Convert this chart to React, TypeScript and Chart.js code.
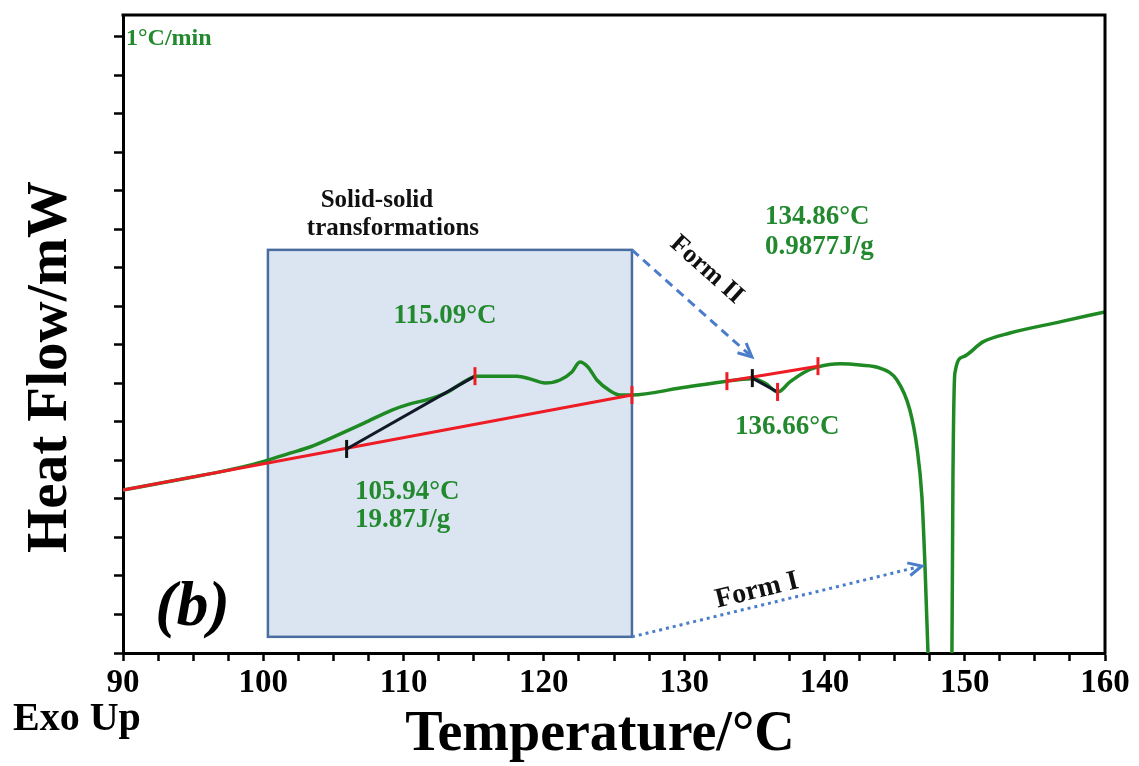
import React, { useEffect, useRef } from 'react';
import { Chart, registerables } from 'chart.js';

Chart.register(...registerables);

// DSC trace (green)
const temperature = [
  90.0, 94.99, 97.48, 99.05, 100.33, 101.9, 103.33, 105.18, 107.18, 109.17, 110.46, 111.88,
  113.16, 114.16, 115.23, 116.66, 118.08, 119.01, 120.08, 121.15, 122.0, 122.57, 123.14,
  123.78, 124.71, 125.42, 126.28, 129.7, 133.05, 134.83, 135.76, 136.69, 137.54, 138.61,
  139.54, 141.11, 142.53, 143.96, 145.17, 146.09, 146.59, 146.95, 147.16, 147.38, 147.6,
  148.9, 149.09, 149.16, 149.3, 149.87, 151.3, 153.22, 156.79, 160.0,
];
const heatFlow = [
  4.23, 4.57, 4.75, 4.88, 5.01, 5.19, 5.35, 5.64, 5.97, 6.31, 6.47, 6.6,
  6.78, 7.01, 7.19, 7.19, 7.19, 7.12, 7.01, 7.09, 7.3, 7.56, 7.43,
  7.09, 6.81, 6.7, 6.7, 6.88, 7.06, 7.12, 7.01, 6.78, 7.04, 7.3,
  7.43, 7.51, 7.48, 7.4, 7.09, 6.31, 5.35, 4.05, 2.34, 0.03, -3,
  -3, 0.08, 4.49, 7.27, 7.69, 8.08, 8.31, 8.6, 8.86,
];

// Baselines (red)
const baseline1T = [90.0, 126.28];
const baseline1HF = [4.23, 6.7];
const baseline2T = [133.05, 139.54];
const baseline2HF = [7.06, 7.45];

// Tangent lines (black)
const tangent1T = [105.94, 115.09];
const tangent1HF = [5.3, 7.19];
const tangent2T = [134.86, 136.66];
const tangent2HF = [7.14, 6.78];

// Limit markers
const redMarkT = [115.09, 126.28, 133.05, 136.66, 139.54];
const redMarkHF = [7.19, 6.7, 7.06, 6.78, 7.45];
const blackMarkT = [105.94, 134.86];
const blackMarkHF = [5.3, 7.14];

// Axis ticks
const xTickLabels = [90, 100, 110, 120, 130, 140, 150, 160];

// Shaded region (solid-solid transformations)
const boxT = [100.33, 126.28];
const boxHF = [0.42, 10.47];

const GREEN_TEXT = '#23892f';
const SERIF = '"Liberation Serif", "Times New Roman", serif';

const pts = (xs: number[], ys: number[]) => xs.map((x, i) => ({ x, y: ys[i] }));

const labels = [
  { text: '1°C/min', t: 90.21, v: 15.8, size: 24, color: GREEN_TEXT, align: 'left' },
  { text: 'Solid-solid', t: 108.1, v: 11.58, size: 25, color: '#111', align: 'center' },
  { text: 'transformations', t: 109.24, v: 10.86, size: 25, color: '#111', align: 'center' },
  { text: '115.09°C', t: 112.95, v: 8.57, size: 27, color: GREEN_TEXT, align: 'center' },
  { text: '134.86°C', t: 135.76, v: 11.14, size: 27, color: GREEN_TEXT, align: 'left' },
  { text: '0.9877J/g', t: 135.76, v: 10.36, size: 27, color: GREEN_TEXT, align: 'left' },
  { text: '105.94°C', t: 106.54, v: 4.0, size: 27, color: GREEN_TEXT, align: 'left' },
  { text: '19.87J/g', t: 106.54, v: 3.27, size: 27, color: GREEN_TEXT, align: 'left' },
  { text: '136.66°C', t: 133.62, v: 5.69, size: 27, color: GREEN_TEXT, align: 'left' },
];

const arrows = [
  { from: [126.28, 10.47], to: [134.83, 7.69], dash: [9, 6], label: 'Form II', lt: 131.6, lv: 9.95, size: 26 },
  { from: [126.28, 0.42], to: [146.95, 2.26], dash: [3, 4], label: 'Form I', lt: 135.19, lv: 1.62, size: 28 },
];

const overlayPlugin = {
  id: 'overlay',
  beforeDatasetsDraw(chart: any) {
    const { ctx, scales } = chart;
    const x = scales.x, y = scales.y;
    const x0 = x.getPixelForValue(boxT[0]);
    const x1 = x.getPixelForValue(boxT[1]);
    const y0 = y.getPixelForValue(boxHF[1]);
    const y1 = y.getPixelForValue(boxHF[0]);
    ctx.save();
    ctx.fillStyle = '#dbe5f1';
    ctx.fillRect(x0, y0, x1 - x0, y1 - y0);
    ctx.strokeStyle = '#4a6c9e';
    ctx.lineWidth = 2.5;
    ctx.strokeRect(x0, y0, x1 - x0, y1 - y0);
    ctx.restore();
  },
  afterDraw(chart: any) {
    const { ctx, scales, chartArea } = chart;
    const x = scales.x, y = scales.y;
    ctx.save();
    // frame top & right
    ctx.strokeStyle = '#000';
    ctx.lineWidth = 3;
    ctx.beginPath();
    ctx.moveTo(chartArea.left - 1.5, chartArea.top);
    ctx.lineTo(chartArea.right, chartArea.top);
    ctx.lineTo(chartArea.right, chartArea.bottom + 1.5);
    ctx.stroke();

    // arrows
    arrows.forEach((a) => {
      const fx = x.getPixelForValue(a.from[0]);
      const fy = y.getPixelForValue(a.from[1]);
      const tx = x.getPixelForValue(a.to[0]);
      const ty = y.getPixelForValue(a.to[1]);
      const ang = Math.atan2(ty - fy, tx - fx);
      ctx.strokeStyle = '#4a7dc9';
      ctx.lineWidth = 3;
      ctx.setLineDash(a.dash);
      ctx.beginPath();
      ctx.moveTo(fx, fy);
      ctx.lineTo(tx - 4 * Math.cos(ang), ty - 4 * Math.sin(ang));
      ctx.stroke();
      ctx.setLineDash([]);
      const hl = 15;
      ctx.lineWidth = 3;
      ctx.beginPath();
      ctx.moveTo(tx - hl * Math.cos(ang - 0.45), ty - hl * Math.sin(ang - 0.45));
      ctx.lineTo(tx, ty);
      ctx.lineTo(tx - hl * Math.cos(ang + 0.45), ty - hl * Math.sin(ang + 0.45));
      ctx.stroke();
      // label along arrow
      ctx.save();
      ctx.translate(x.getPixelForValue(a.lt), y.getPixelForValue(a.lv));
      ctx.rotate(ang);
      ctx.fillStyle = '#111';
      ctx.font = `bold ${a.size}px ${SERIF}`;
      ctx.textAlign = 'center';
      ctx.textBaseline = 'middle';
      ctx.fillText(a.label, 0, 0);
      ctx.restore();
    });

    // annotations
    labels.forEach((l) => {
      ctx.fillStyle = l.color;
      ctx.font = `bold ${l.size}px ${SERIF}`;
      ctx.textAlign = l.align;
      ctx.textBaseline = 'alphabetic';
      ctx.fillText(l.text, x.getPixelForValue(l.t), y.getPixelForValue(l.v));
    });

    // panel letter
    ctx.fillStyle = '#000';
    ctx.font = `italic bold 64px ${SERIF}`;
    ctx.textAlign = 'left';
    ctx.fillText('(b)', x.getPixelForValue(92.3), y.getPixelForValue(0.73));

    // axis titles
    ctx.font = `bold 56px ${SERIF}`;
    ctx.textAlign = 'center';
    ctx.fillText('Temperature/°C', 600, 750);

    ctx.save();
    ctx.translate(66, 367);
    ctx.rotate(-Math.PI / 2);
    ctx.font = `bold 57px ${SERIF}`;
    ctx.textAlign = 'center';
    ctx.fillText('Heat Flow/mW', 0, 0);
    ctx.restore();

    ctx.font = `bold 40px ${SERIF}`;
    ctx.textAlign = 'left';
    ctx.fillText('Exo Up', 13, 730);
    ctx.restore();
  },
};

export default function App() {
  const ref = useRef<HTMLCanvasElement | null>(null);
  useEffect(() => {
    if (!ref.current) return;
    const chart = new Chart(ref.current, {
      type: 'line',
      data: {
        datasets: [
          {
            data: pts(blackMarkT, blackMarkHF),
            showLine: false,
            pointStyle: 'line',
            rotation: 90,
            pointRadius: 9,
            borderColor: '#111',
            borderWidth: 3,
          },
          {
            data: pts(redMarkT, redMarkHF),
            showLine: false,
            pointStyle: 'line',
            rotation: 90,
            pointRadius: 9,
            borderColor: '#ee1c24',
            borderWidth: 3,
          },
          { data: pts(tangent1T, tangent1HF), borderColor: '#111827', borderWidth: 3, pointRadius: 0 },
          { data: pts(tangent2T, tangent2HF), borderColor: '#111827', borderWidth: 3, pointRadius: 0 },
          { data: pts(baseline1T, baseline1HF), borderColor: '#ee1c24', borderWidth: 3, pointRadius: 0 },
          { data: pts(baseline2T, baseline2HF), borderColor: '#ee1c24', borderWidth: 3, pointRadius: 0 },
          {
            data: pts(temperature, heatFlow),
            borderColor: '#1f8a24',
            borderWidth: 3.5,
            pointRadius: 0,
            cubicInterpolationMode: 'monotone',
          },
        ],
      },
      options: {
        animation: false,
        responsive: false,
        layout: { padding: { top: 15, right: 34, left: 0, bottom: 0 } },
        plugins: { legend: { display: false }, tooltip: { enabled: false } },
        scales: {
          x: {
            type: 'linear',
            min: 90,
            max: 160,
            afterFit: (s: any) => { s.height = 113; },
            ticks: {
              stepSize: 2.5,
              autoSkip: false,
              maxRotation: 0,
              includeBounds: false,
              padding: 3,
              color: '#000',
              font: { family: SERIF, size: 33, weight: 'bold' },
              callback: (v: any) => (xTickLabels.includes(Number(v)) ? String(v) : ''),
            },
            grid: { drawOnChartArea: false, drawTicks: true, tickLength: 8, tickColor: '#000', tickWidth: 2.5 },
            border: { display: true, color: '#000', width: 3 },
          },
          y: {
            type: 'linear',
            min: 0,
            max: 16.57,
            afterFit: (s: any) => { s.width = 123; },
            ticks: { stepSize: 1, includeBounds: false, display: false },
            grid: { drawOnChartArea: false, drawTicks: true, tickLength: 9, tickColor: '#000', tickWidth: 2.5 },
            border: { display: true, color: '#000', width: 3 },
          },
        },
      },
      plugins: [overlayPlugin],
    } as any);
    return () => chart.destroy();
  }, []);
  return (
    <div style={{ position: 'absolute', left: 0, top: 0, width: 1139, height: 766, background: '#fff' }}>
      <canvas ref={ref} width={1139} height={766} />
    </div>
  );
}
